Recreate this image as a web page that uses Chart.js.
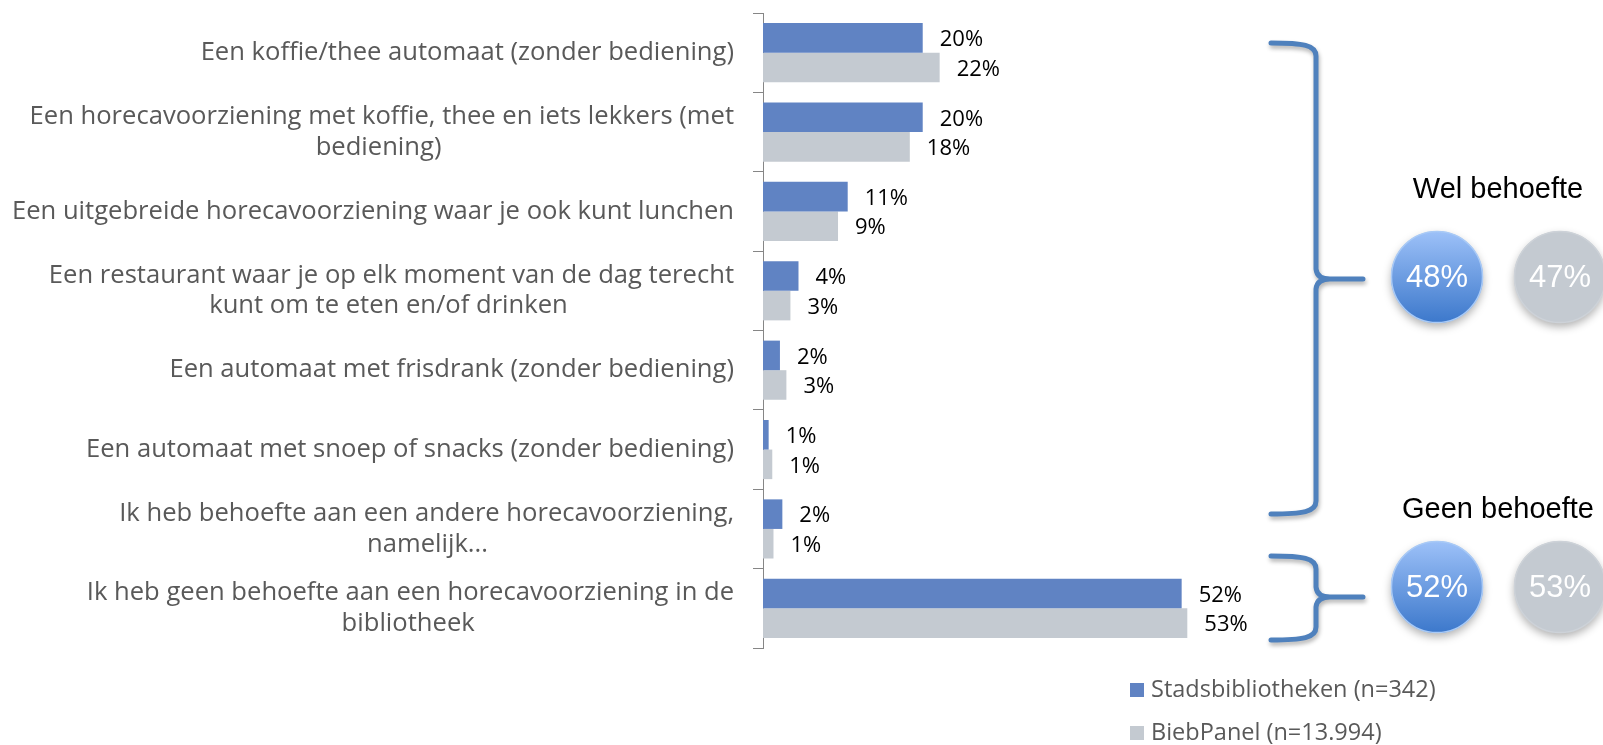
<!DOCTYPE html>
<html>
<head>
<meta charset="utf-8">
<script src="https://cdn.jsdelivr.net/npm/chart.js@4.4.1/dist/chart.umd.min.js"></script>
<style>
  html, body { margin: 0; padding: 0; background: #fff; }
</style>
</head>
<body>
<canvas id="horeca" width="1603" height="745"></canvas>
<script>
// categories (multi-line ones as arrays, like the original wrapping)
const categories = [
  ['Een koffie/thee automaat (zonder bediening)'],
  ['Een horecavoorziening met koffie, thee en iets lekkers (met', 'bediening)'],
  ['Een uitgebreide horecavoorziening waar je ook kunt lunchen'],
  ['Een restaurant waar je op elk moment van de dag terecht', 'kunt om te eten en/of drinken'],
  ['Een automaat met frisdrank (zonder bediening)'],
  ['Een automaat met snoep of snacks (zonder bediening)'],
  ['Ik heb behoefte aan een andere horecavoorziening,', 'namelijk...'],
  ['Ik heb geen behoefte aan een horecavoorziening in de', 'bibliotheek']
];
const stadsbibliotheken = [19.8, 19.8, 10.5, 4.4, 2.1, 0.7, 2.4, 51.9];
const biebpanel = [21.9, 18.2, 9.3, 3.4, 2.9, 1.15, 1.3, 52.6];
const seriesNames = ['Stadsbibliotheken (n=342)', 'BiebPanel (n=13.994)'];

const groupTitles = ['Wel behoefte', 'Geen behoefte'];
const welBehoefte = [48, 47];
const geenBehoefte = [52, 53];

const blue = '#6083C3';
const grey = '#C4CAD1';
const braceBlue = '#4F81BD';
const labelFont = 25.6;

// centre the short second line under the first one (labels stay right aligned)
const mctx = document.createElement('canvas').getContext('2d');
mctx.font = labelFont + 'px "Open Sans"';
function centreLines(lines) {
  if (lines.length < 2) return lines[0];
  const widest = Math.max(...lines.map(l => mctx.measureText(l).width));
  const space = mctx.measureText(' ').width;
  return lines.map(l => {
    const pad = Math.round((widest - mctx.measureText(l).width) / 2 / space);
    return l + ' '.repeat(pad);
  });
}

const valueLabels = {
  id: 'valueLabels',
  afterDatasetsDraw(chart) {
    const ctx = chart.ctx;
    ctx.save();
    ctx.font = '22px "Open Sans"';
    ctx.fillStyle = '#000';
    ctx.textAlign = 'left';
    ctx.textBaseline = 'middle';
    chart.data.datasets.forEach((ds, d) => {
      chart.getDatasetMeta(d).data.forEach((bar, i) => {
        ctx.fillText(Math.round(ds.data[i]) + '%', bar.x + 17, bar.y + 2);
      });
    });
    ctx.restore();
  }
};

function drawBrace(ctx, x0, xs, xt, top, mid, bottom) {
  ctx.beginPath();
  ctx.moveTo(x0, top);
  ctx.bezierCurveTo(x0 + 32, top, xs, top + 2, xs, top + 13);
  ctx.lineTo(xs, mid - 10);
  ctx.quadraticCurveTo(xs + 1, mid, xs + 14, mid);
  ctx.lineTo(xt, mid);
  ctx.moveTo(xs + 14, mid);
  ctx.quadraticCurveTo(xs + 1, mid, xs, mid + 10);
  ctx.lineTo(xs, bottom - 13);
  ctx.bezierCurveTo(xs, bottom - 2, x0 + 32, bottom, x0, bottom);
  ctx.stroke();
}

function drawBubble(ctx, cx, cy, r, isBlue, text) {
  ctx.save();
  ctx.shadowColor = 'rgba(0,0,0,0.3)';
  ctx.shadowBlur = 8;
  ctx.shadowOffsetY = 4;
  ctx.beginPath();
  ctx.arc(cx, cy, r, 0, Math.PI * 2);
  if (isBlue) {
    const g = ctx.createLinearGradient(cx, cy - r, cx, cy + r);
    g.addColorStop(0, '#9DC1F8');
    g.addColorStop(1, '#3C78CB');
    ctx.fillStyle = g;
  } else {
    ctx.fillStyle = grey;
  }
  ctx.fill();
  ctx.restore();
  ctx.save();
  ctx.beginPath();
  ctx.arc(cx, cy, r - 0.5, 0, Math.PI * 2);
  ctx.lineWidth = 1.5;
  ctx.strokeStyle = isBlue ? '#A9CAF6' : '#CDD2D8';
  ctx.stroke();
  ctx.font = '31px "Liberation Sans"';
  ctx.fillStyle = '#fff';
  ctx.textAlign = 'center';
  ctx.textBaseline = 'middle';
  ctx.fillText(text, cx, cy + 1);
  ctx.restore();
}

const sidePanel = {
  id: 'sidePanel',
  afterDraw(chart) {
    const ctx = chart.ctx;
    ctx.save();
    ctx.strokeStyle = braceBlue;
    ctx.lineWidth = 5;
    ctx.lineCap = 'round';
    ctx.lineJoin = 'round';
    ctx.shadowColor = 'rgba(0,0,0,0.3)';
    ctx.shadowBlur = 4;
    ctx.shadowOffsetX = 1;
    ctx.shadowOffsetY = 3;
    drawBrace(ctx, 1271, 1316, 1363, 43, 279, 514);
    drawBrace(ctx, 1271, 1316, 1363, 556, 597, 640);
    ctx.restore();

    ctx.save();
    ctx.font = '29px "Liberation Sans"';
    ctx.fillStyle = '#000';
    ctx.textAlign = 'center';
    ctx.textBaseline = 'middle';
    ctx.fillText(groupTitles[0], 1498, 190);
    ctx.fillText(groupTitles[1], 1498, 510);
    ctx.restore();

    drawBubble(ctx, 1437, 277, 46, true, welBehoefte[0] + '%');
    drawBubble(ctx, 1560, 277, 46, false, welBehoefte[1] + '%');
    drawBubble(ctx, 1437, 587, 46, true, geenBehoefte[0] + '%');
    drawBubble(ctx, 1560, 587, 46, false, geenBehoefte[1] + '%');
  }
};

const legendBox = {
  id: 'legendBox',
  afterDraw(chart) {
    const ctx = chart.ctx;
    ctx.save();
    ctx.font = '23.5px "Open Sans"';
    ctx.textAlign = 'left';
    ctx.textBaseline = 'middle';
    const ys = [690, 733];
    chart.data.datasets.forEach((ds, d) => {
      ctx.fillStyle = ds.backgroundColor;
      ctx.fillRect(1130, ys[d] - 7, 14, 14);
      ctx.fillStyle = '#595959';
      ctx.fillText(ds.label, 1151, ys[d]);
    });
    ctx.restore();
  }
};

new Chart(document.getElementById('horeca'), {
  type: 'bar',
  data: {
    labels: categories.map(centreLines),
    datasets: [
      { label: seriesNames[0], data: stadsbibliotheken, backgroundColor: blue },
      { label: seriesNames[1], data: biebpanel, backgroundColor: grey }
    ]
  },
  options: {
    indexAxis: 'y',
    responsive: false,
    animation: false,
    layout: { padding: { top: 13, bottom: 97, left: 0, right: 356 } },
    datasets: { bar: { categoryPercentage: 0.745, barPercentage: 1 } },
    scales: {
      x: { display: false, min: 0, max: 60 },
      y: {
        afterFit: scale => {
          scale.width = 763;
          scale.paddingTop = 0;
          scale.paddingBottom = 0;
        },
        border: { color: '#868686' },
        grid: { drawOnChartArea: false, tickLength: 10, color: '#868686' },
        ticks: {
          autoSkip: false,
          padding: 19,
          color: '#595959',
          font: { family: 'Open Sans', size: labelFont, lineHeight: 1.2 }
        }
      }
    },
    plugins: {
      legend: { display: false },
      tooltip: { enabled: false }
    }
  },
  plugins: [valueLabels, sidePanel, legendBox]
});
</script>
</body>
</html>
